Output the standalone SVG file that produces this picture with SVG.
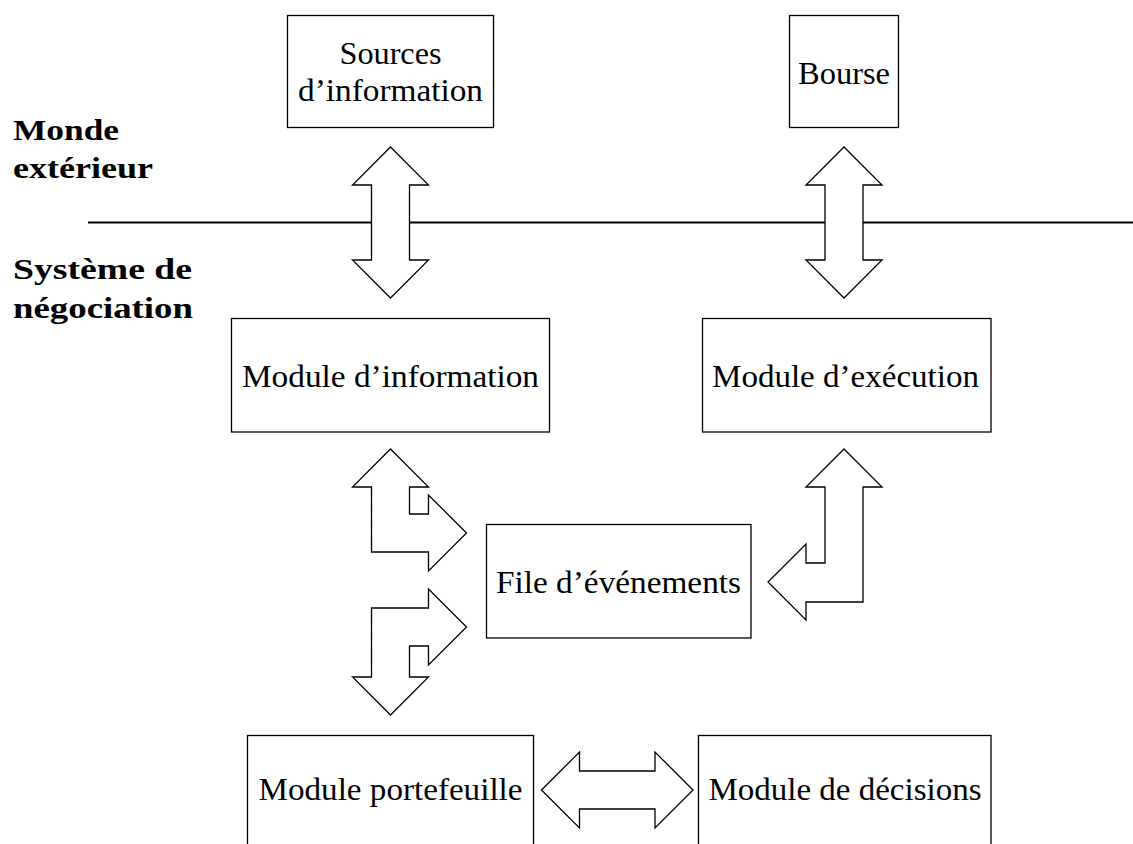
<svg xmlns="http://www.w3.org/2000/svg" width="1133" height="844" viewBox="0 0 1133 844">
<style>
.box{fill:#fff;stroke:#000;stroke-width:1.3}
.arr{fill:#fff;stroke:#000;stroke-width:1.3;stroke-linejoin:miter}
.t{font-family:"Liberation Serif","Times New Roman",serif;font-size:32px;fill:#000;text-anchor:middle}
.b{font-family:"Liberation Serif","Times New Roman",serif;font-size:29px;font-weight:bold;fill:#000}
</style>
<rect width="1133" height="844" fill="#fff"/>
<g id="labels">
<text class="b" x="13" y="140" textLength="106" lengthAdjust="spacingAndGlyphs">Monde</text>
<text class="b" x="13" y="178" textLength="140" lengthAdjust="spacingAndGlyphs">extérieur</text>
<text class="b" x="13" y="279" textLength="179" lengthAdjust="spacingAndGlyphs">Système de</text>
<text class="b" x="13" y="318" textLength="180" lengthAdjust="spacingAndGlyphs">négociation</text>
</g>
<line x1="88" y1="222.5" x2="1133" y2="222.5" stroke="#000" stroke-width="2"/>
<g id="connectors">
<path class="arr" d="M390.5,147 L428.5,185 L409.5,185 L409.5,260 L428.5,260 L390.5,298 L352.5,260 L371.5,260 L371.5,185 L352.5,185 Z"/>
<path class="arr" d="M844,147 L882,185 L863,185 L863,260 L882,260 L844,298 L806,260 L825,260 L825,185 L806,185 Z"/>
<path class="arr" d="M390.5,449 L428.5,487 L409.5,487 L409.5,514 L428.5,514 L428.5,495 L466.5,533 L428.5,571 L428.5,552 L371.5,552 L371.5,487 L352.5,487 Z"/>
<path class="arr" d="M428.5,589 L466.5,627 L428.5,665 L428.5,646 L409.5,646 L409.5,677 L428.5,677 L390.5,715 L352.5,677 L371.5,677 L371.5,608 L428.5,608 Z"/>
<path class="arr" d="M844,449 L882,487 L863,487 L863,602 L806,602 L806,620 L768,582 L806,544 L806,563 L825,563 L825,487 L806,487 Z"/>
<path class="arr" d="M541.5,790 L579.5,752 L579.5,771 L655,771 L655,752 L693,790 L655,828 L655,809 L579.5,809 L579.5,828 Z"/>
</g>
<g id="sources">
<rect class="box" x="287.5" y="15.5" width="206" height="112"/>
<text class="t" x="390.5" y="64" textLength="102" lengthAdjust="spacingAndGlyphs">Sources</text>
<text class="t" x="390.5" y="101" textLength="185" lengthAdjust="spacingAndGlyphs">d’information</text>
</g>
<g id="bourse">
<rect class="box" x="789.5" y="15.5" width="109" height="112"/>
<text class="t" x="844" y="84" textLength="92" lengthAdjust="spacingAndGlyphs">Bourse</text>
</g>
<g id="module-information">
<rect class="box" x="231.5" y="318.5" width="318" height="113.5"/>
<text class="t" x="390.5" y="387" textLength="297" lengthAdjust="spacingAndGlyphs">Module d’information</text>
</g>
<g id="module-execution">
<rect class="box" x="702.5" y="318.5" width="288.5" height="113.5"/>
<text class="t" x="845.5" y="387" textLength="267" lengthAdjust="spacingAndGlyphs">Module d’exécution</text>
</g>
<g id="file-evenements">
<rect class="box" x="486.5" y="524.5" width="264.5" height="113.5"/>
<text class="t" x="618.5" y="593" textLength="245" lengthAdjust="spacingAndGlyphs">File d’événements</text>
</g>
<g id="module-portefeuille">
<rect class="box" x="247.5" y="735.5" width="286" height="120"/>
<text class="t" x="390.5" y="800" textLength="264" lengthAdjust="spacingAndGlyphs">Module portefeuille</text>
</g>
<g id="module-decisions">
<rect class="box" x="698.5" y="735.5" width="292.5" height="120"/>
<text class="t" x="845" y="800" textLength="273" lengthAdjust="spacingAndGlyphs">Module de décisions</text>
</g>
</svg>
